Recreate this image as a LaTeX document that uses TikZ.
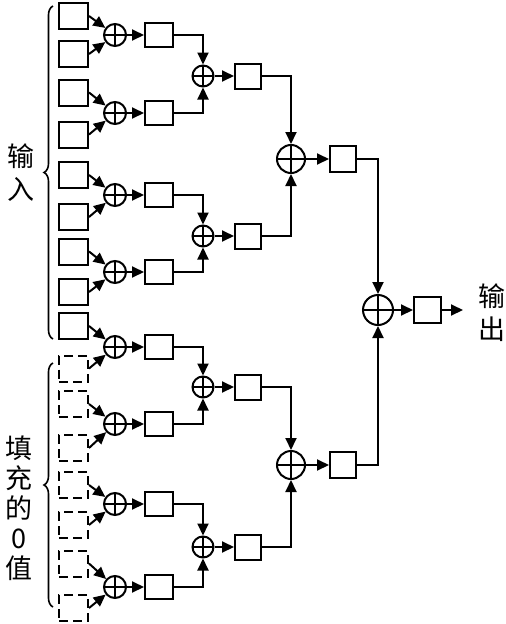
\documentclass[tikz,border=0pt]{standalone}
\usepackage{fontspec}
\newfontfamily\cjk{Noto Sans CJK SC}
\usetikzlibrary{arrows.meta,decorations.pathreplacing}
\begin{document}
\begin{tikzpicture}[x=1pt,y=-1pt,line width=2pt,
  box/.style={draw,rectangle,minimum width=28pt,minimum height=25pt,inner sep=0pt},
  dbox/.style={box,dash pattern=on 9pt off 5pt},
  sumnode/.style={circle,draw,inner sep=0pt,minimum size=#1,
    path picture={\draw (path picture bounding box.north) -- (path picture bounding box.south)
      (path picture bounding box.west) -- (path picture bounding box.east);}},
  arr/.style={-{Triangle[length=12pt,width=11pt]}},
  bracestyle/.style={decorate,decoration={brace,amplitude=9pt},line width=1.6pt},
  lblA/.style={font=\cjk\fontsize{27}{33}\selectfont,align=center,inner sep=0pt},
  lblB/.style={font=\cjk\fontsize{27}{30}\selectfont,align=center,inner sep=0pt}]
\useasboundingbox (0,0) rectangle (506,624);
% input boxes
\foreach \i/\y in {1/16,2/54,3/92.5,4/134.5,5/175,6/217,7/251.5,8/292,9/326}
  \node[box,minimum width=29pt,minimum height=26pt] (in\i) at (73.5,\y) {};
\foreach \i/\y in {10/368.5,11/404,12/448,13/485,14/525,15/563.5,16/608}
  \node[dbox,minimum width=29pt,minimum height=26pt] (in\i) at (73.5,\y) {};
% level 1
\foreach \a/\y/\p/\q in {1/35/1/2,2/113/3/4,3/195/5/6,4/272/7/8,5/347/9/10,6/424/11/12,7/504/13/14,8/587/15/16}{
  \node[sumnode=22pt] (a\a) at (115,\y) {};
  \node[box,minimum width=28pt,minimum height=24pt] (ab\a) at (159,\y) {};
  \draw[arr] (a\a) -- (ab\a);
  \draw[arr] (in\p.east) -- (a\a);
  \draw[arr] (in\q.east) -- (a\a);
}
% level 2
\foreach \b/\y/\p/\q in {1/76/1/2,2/236/3/4,3/387/5/6,4/547/7/8}{
  \node[sumnode=21pt] (b\b) at (203,\y) {};
  \node[box,minimum width=26pt,minimum height=25pt] (bb\b) at (248,\y) {};
  \draw[arr] (b\b) -- (bb\b);
  \draw[arr] (ab\p.east) -| (b\b);
  \draw[arr] (ab\q.east) -| (b\b);
}
% level 3
\foreach \c/\y/\p/\q in {1/159/1/2,2/465/3/4}{
  \node[sumnode=28pt] (c\c) at (291,\y) {};
  \node[box,minimum width=26pt,minimum height=26pt] (cb\c) at (343,\y) {};
  \draw[arr] (c\c) -- (cb\c);
  \draw[arr] (bb\p.east) -| (c\c);
  \draw[arr] (bb\q.east) -| (c\c);
}
% level 4
\node[sumnode=30pt] (d) at (378,310) {};
\node[box,minimum width=27pt,minimum height=26pt] (out) at (427.5,310) {};
\coordinate (outend) at (463,310);
\draw[arr] (cb1.east) -| (d);
\draw[arr] (cb2.east) -| (d);
\draw[arr] (d) -- (out);
\draw[arr] (out) -- (outend);
% braces
\draw[bracestyle] (53,339) -- (53,6);
\draw[bracestyle] (53,607) -- (53,363);
% labels
\node[lblA] (tin) at (21,173) {输\\入};
\node[lblB] (tpad) at (19,508) {填\\充\\的\\0\\值};
\node[lblA] (tout) at (492,313) {输\\出};
\end{tikzpicture}
\end{document}
